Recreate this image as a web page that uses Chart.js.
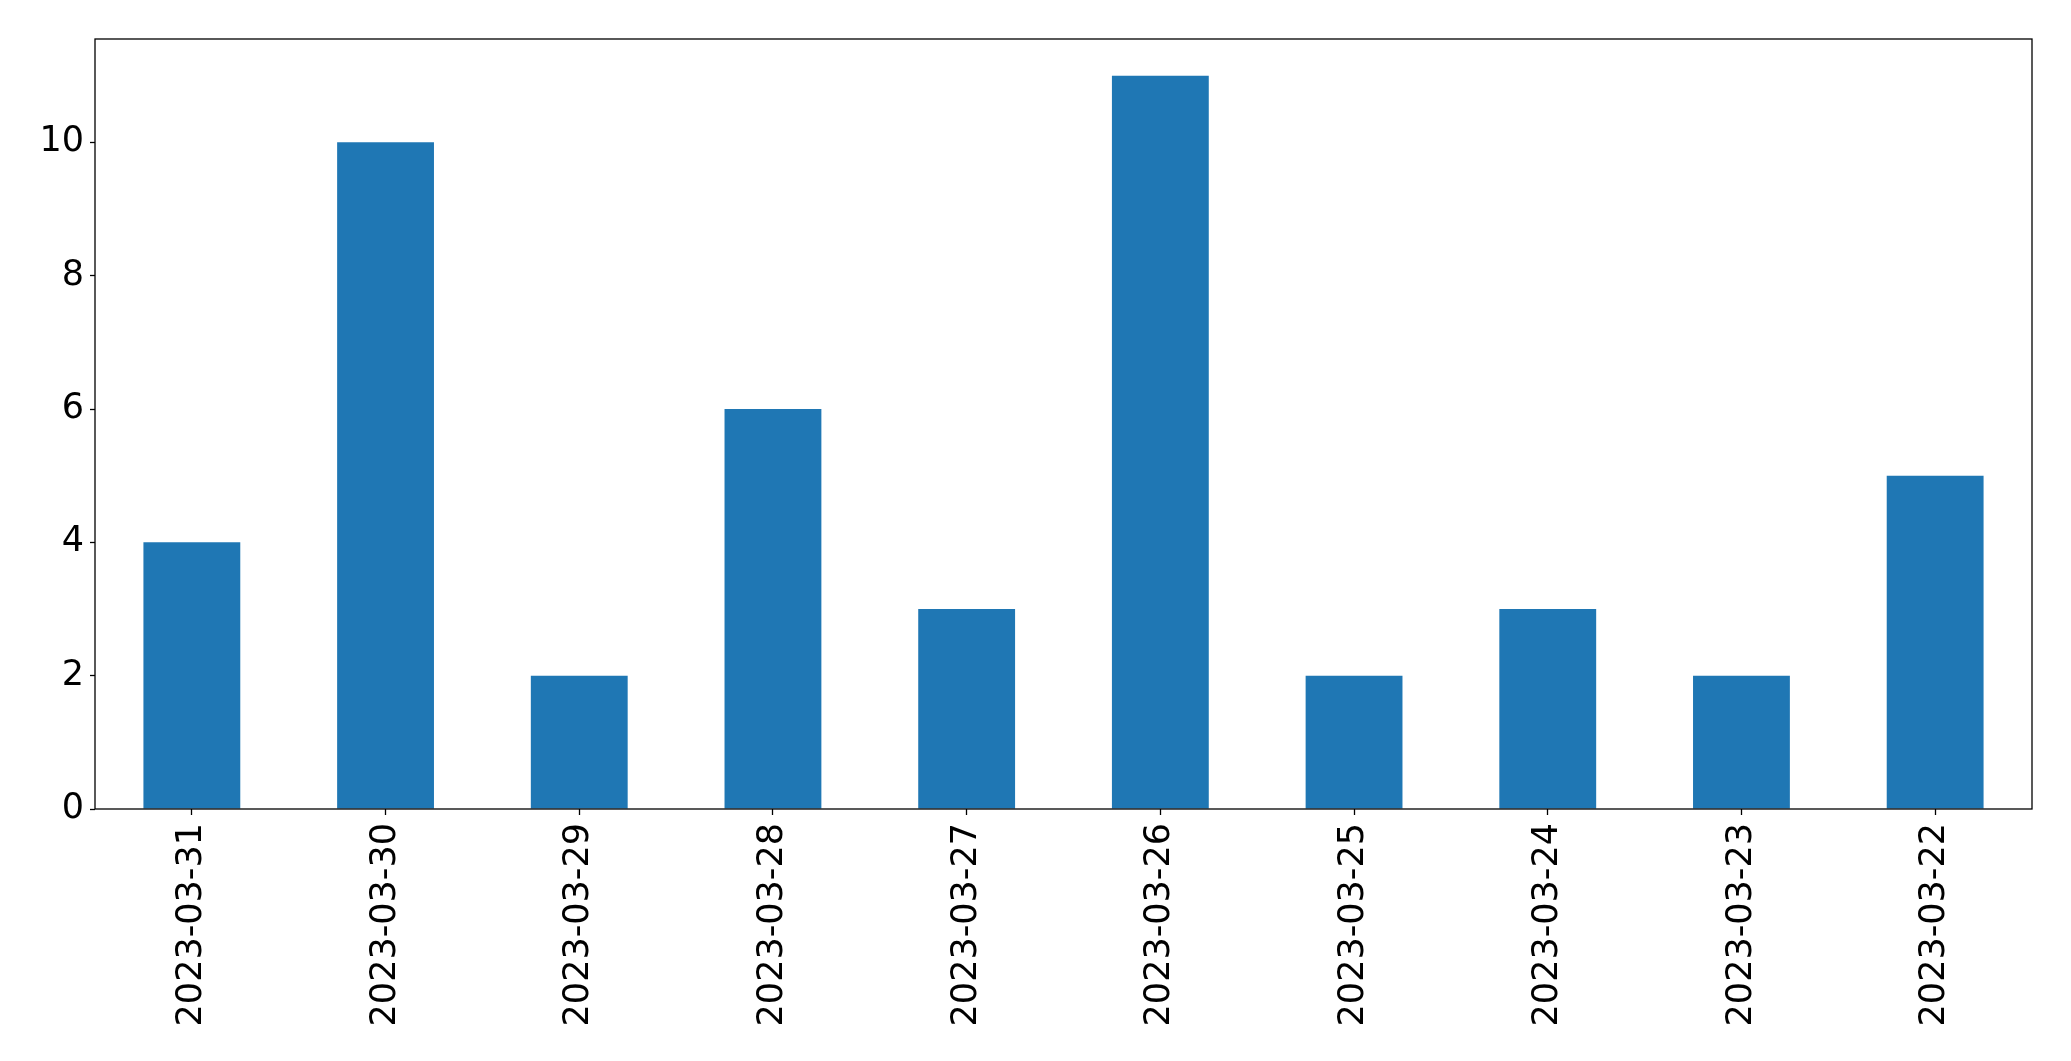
<!DOCTYPE html>
<html>
<head>
<meta charset="utf-8">
<script src="https://cdn.jsdelivr.net/npm/chart.js@4"></script>
<style>
  html, body { margin: 0; padding: 0; background: #fff; }
  canvas { display: block; }
</style>
</head>
<body>
<canvas id="c" width="2071" height="1061"></canvas>
<script>
const categories = ["2023-03-31", "2023-03-30", "2023-03-29", "2023-03-28", "2023-03-27", "2023-03-26", "2023-03-25", "2023-03-24", "2023-03-23", "2023-03-22"];
const values = [4, 10, 2, 6, 3, 11, 2, 3, 2, 5];
const yTicks = [0, 2, 4, 6, 8, 10];
const yMax = 11.55;

const frame = {
  id: 'frame',
  afterDatasetsDraw(chart) {
    const a = chart.chartArea, ctx = chart.ctx;
    ctx.save();
    ctx.strokeStyle = '#000';
    ctx.lineWidth = 1.3;
    ctx.strokeRect(a.left, a.top, a.right - a.left, a.bottom - a.top);
    ctx.restore();
  }
};

new Chart(document.getElementById('c'), {
  type: 'bar',
  data: {
    labels: categories,
    datasets: [{
      data: values,
      backgroundColor: '#1f77b4',
      borderWidth: 0,
      barPercentage: 0.5,
      categoryPercentage: 1.0
    }]
  },
  options: {
    responsive: false,
    animation: false,
    layout: { padding: { top: 39, right: 39, left: 0, bottom: 0 } },
    plugins: { legend: { display: false }, tooltip: { enabled: false } },
    scales: {
      x: {
        offset: true,
        grid: { display: true, drawOnChartArea: false, drawTicks: true, tickLength: 6, tickColor: '#000', tickWidth: 1.3, offset: false },
        border: { display: false },
        ticks: {
          color: '#000',
          font: { family: 'DejaVu Sans', size: 35 },
          minRotation: 90, maxRotation: 90,
          padding: 8,
          autoSkip: false
        },
        afterFit(scale) { scale.height = 252; }
      },
      y: {
        min: 0, max: yMax,
        grid: { display: true, drawOnChartArea: false, drawTicks: true, tickLength: 5, tickColor: '#000', tickWidth: 1.3 },
        border: { display: false },
        ticks: {
          color: '#000',
          font: { family: 'DejaVu Sans', size: 35 },
          padding: 6
        },
        afterBuildTicks(scale) { scale.ticks = yTicks.map(v => ({ value: v })); },
        afterFit(scale) { scale.width = 95; }
      }
    }
  },
  plugins: [frame]
});
</script>
</body>
</html>
